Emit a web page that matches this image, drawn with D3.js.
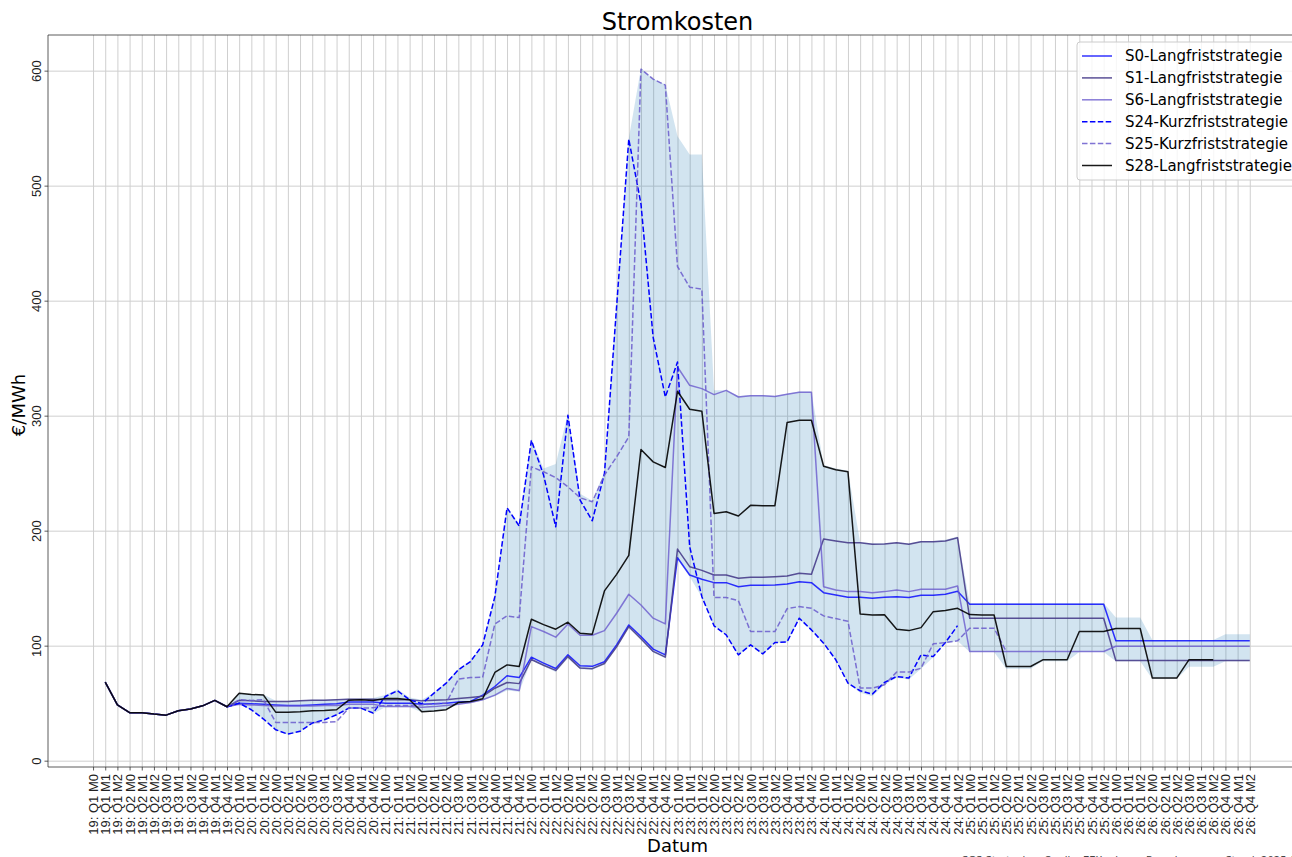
<!DOCTYPE html>
<html>
<head>
<meta charset="utf-8">
<title>Stromkosten</title>
<script src="https://cdn.jsdelivr.net/npm/d3@7"></script>
<style>
  body { margin: 0; background: #fff; overflow: hidden; }
  svg { display: block; font-family: "DejaVu Sans", sans-serif; }
  .grid line { stroke: #cfcfcf; stroke-width: 1; }
  .grid path { display: none; }
  .axis path { display: none; }
  .axis line { stroke: #333; stroke-width: 0.8; }
  .axis text { fill: #222; font-size: 13px; }
</style>
</head>
<body>
<div id="chart"></div>
<script>
// tick labels: year / quarter / month of the forward product
const years = ["19", "20", "21", "22", "23", "24", "25", "26"];
const quarters = ["Q1", "Q2", "Q3", "Q4"];
const months = ["M0", "M1", "M2"];
const categories = [];
years.forEach(y => quarters.forEach(q => months.forEach(m => categories.push(`${y}: ${q} ${m}`))));
const yTicks = [0, 100, 200, 300, 400, 500, 600];

const _ = null;

// one row per year (12 values), €/MWh
const s0 = [
  _, 68.3, 48.6, 41.7, 41.7, 40.5, 39.6, 43.4, 44.9, 47.7, 52.4, 46.9,
  50.0, 49.5, 49.0, 48.5, 48.0, 48.0, 48.5, 49.0, 49.5, 51.0, 51.0, 51.0,
  50.0, 50.0, 50.0, 49.0, 49.5, 50.0, 51.0, 51.5, 57.0, 64.5, 73.8, 72.3,
  90.0, 84.8, 80.1, 92.0, 82.5, 82.0, 86.0, 100.7, 118.0, 108.0, 97.0, 92.0,
  176.5, 161.5, 157.7, 154.8, 154.8, 151.3, 152.5, 152.5, 152.8, 153.6, 155.6, 154.8,
  146.1, 144.1, 142.1, 142.1, 141.2, 142.1, 142.6, 141.8, 143.8, 143.8, 144.7, 147.3,
  136.0, 136.0, 136.0, 136.0, 136.0, 136.0, 136.0, 136.0, 136.0, 136.0, 136.0, 136.0,
  104.2, 104.2, 104.2, 104.2, 104.2, 104.2, 104.2, 104.2, 104.2, 104.2, 104.2, 104.2
];
const s1 = [
  _, 68.3, 48.6, 41.7, 41.7, 40.5, 39.6, 43.4, 44.9, 47.7, 52.4, 46.9,
  52.5, 52.0, 51.5, 51.5, 51.5, 52.0, 52.5, 52.5, 53.0, 53.5, 53.5, 53.5,
  53.0, 53.0, 53.0, 52.0, 52.5, 53.0, 54.0, 55.0, 56.0, 63.0, 68.0, 67.0,
  88.0, 83.0, 78.5, 90.5, 80.5, 80.0, 84.5, 99.0, 116.5, 106.0, 95.0, 90.0,
  184.0, 168.7, 165.5, 161.5, 161.5, 158.6, 159.4, 159.4, 160.0, 160.6, 162.9, 162.0,
  192.7, 191.0, 189.5, 189.5, 188.1, 188.4, 189.5, 188.1, 190.4, 190.4, 191.0, 193.9,
  123.8, 123.8, 123.8, 123.8, 123.8, 123.8, 123.8, 123.8, 123.8, 123.8, 123.8, 123.8,
  87.1, 87.1, 87.1, 87.1, 87.1, 87.1, 87.1, 87.1, 87.1, 87.1, 87.1, 87.1
];
const s6 = [
  _, 68.3, 48.6, 41.7, 41.7, 40.5, 39.6, 43.4, 44.9, 47.7, 52.4, 46.9,
  49.0, 48.5, 48.0, 47.5, 47.5, 47.5, 47.5, 48.0, 48.0, 49.0, 49.0, 49.0,
  47.0, 47.0, 47.0, 46.5, 47.0, 48.0, 49.0, 50.6, 53.0, 57.0, 62.8, 61.0,
  116.6, 112.3, 107.4, 118.9, 109.0, 109.0, 113.1, 128.2, 144.7, 135.4, 123.9, 118.9,
  342.3, 326.4, 323.5, 318.3, 322.0, 316.2, 317.4, 317.4, 316.6, 318.6, 320.3, 320.3,
  151.3, 148.4, 147.0, 147.0, 146.1, 147.0, 148.4, 147.0, 149.0, 149.0, 149.0, 151.9,
  94.9, 94.9, 94.9, 94.9, 94.9, 94.9, 94.9, 94.9, 94.9, 94.9, 94.9, 94.9,
  99.5, 99.5, 99.5, 99.5, 99.5, 99.5, 99.5, 99.5, 99.5, 99.5, 99.5, 99.5
];
const s24 = [
  _, _, _, _, _, _, _, _, _, _, _, 46.9,
  50.0, 44.3, 36.2, 26.9, 23.1, 25.5, 32.7, 35.6, 39.9, 45.7, 45.7, 41.4,
  55.8, 60.8, 52.9, 49.5, 58.7, 67.4, 79.0, 86.2, 100.7, 142.6, 219.9, 204.0,
  278.6, 248.3, 203.4, 300.3, 226.6, 208.6, 249.7, 395.0, 540.5, 484.0, 368.1, 316.2,
  346.6, 186.0, 142.6, 117.3, 109.4, 92.0, 100.7, 92.9, 102.7, 103.3, 123.9, 113.7,
  102.2, 87.7, 67.4, 60.8, 57.9, 68.0, 73.2, 71.8, 92.0, 90.5, 102.7, 117.4,
  _, _, _, _, _, _, _, _, _, _, _, _,
  _, _, _, _, _, _, _, _, _, _, _, _
];
const s25 = [
  _, _, _, _, _, _, _, _, _, _, _, 46.9,
  53.0, 52.4, 53.0, 33.3, 33.3, 33.3, 33.3, 33.3, 34.0, 45.7, 45.7, 46.0,
  48.0, 48.0, 48.0, 48.6, 49.5, 50.0, 70.9, 72.3, 72.6, 118.9, 125.9, 124.4,
  255.5, 251.2, 246.2, 238.1, 228.6, 225.1, 248.3, 264.2, 281.5, 601.3, 592.6, 587.4,
  429.7, 411.7, 410.0, 142.0, 141.9, 139.1, 112.3, 112.3, 112.3, 132.2, 134.0, 132.5,
  125.9, 123.6, 121.2, 63.1, 63.1, 66.0, 77.0, 77.0, 80.4, 101.6, 102.7, 104.2,
  115.2, 115.2, 115.2, 94.9, _, _, _, _, _, _, _, _,
  _, _, _, _, _, _, _, _, _, _, _, _
];
const s28 = [
  _, 68.3, 48.6, 41.7, 41.7, 40.5, 39.6, 43.4, 44.9, 47.7, 52.4, 46.9,
  58.7, 57.6, 57.0, 42.2, 42.2, 42.5, 43.4, 43.7, 44.3, 52.6, 52.9, 52.4,
  54.1, 54.1, 52.9, 42.5, 43.1, 44.3, 50.6, 51.5, 53.8, 76.7, 83.3, 81.9,
  123.0, 118.3, 114.3, 120.4, 110.8, 110.0, 147.6, 162.0, 178.5, 270.5, 259.8, 254.9,
  321.2, 305.6, 303.8, 215.0, 216.4, 212.7, 222.0, 221.7, 221.7, 294.0, 296.0, 296.0,
  256.0, 253.0, 251.2, 127.6, 126.7, 126.9, 114.3, 113.1, 115.7, 129.6, 130.5, 132.5,
  127.0, 126.7, 126.7, 81.9, 81.9, 81.9, 87.7, 87.7, 87.7, 112.3, 112.3, 112.3,
  114.9, 114.9, 114.9, 71.8, 71.8, 71.8, 87.7, 87.7, 87.7, _, _, _
];

// range over all strategies (shaded band)
const bandHigh = [
  _, _, _, _, _, _, _, _, _, _, _, 47,
  59, 58, 57.5, 52, 52, 52.5, 53, 53, 53.5, 54, 54, 54.5,
  57, 62, 55, 53, 59, 68, 80, 87, 101, 143, 220, 206,
  280, 254, 258, 302, 232, 226, 251, 400, 541, 602, 593, 588,
  543, 527, 527, 322, 322, 317, 318, 318, 317, 319, 321, 321,
  257, 254, 252, 190, 189, 189, 190, 189, 191, 191, 192, 195,
  137, 137, 137, 137, 137, 137, 137, 137, 137, 137, 137, 137,
  124.4, 124.4, 124.4, 105, 105, 105, 105, 105, 105, 110, 110, 110
];
const bandLow = [
  _, _, _, _, _, _, _, _, _, _, _, 46,
  49, 44, 36, 26.5, 22.5, 25, 32, 35, 39.5, 45, 45, 41,
  46.5, 46.5, 46.5, 42, 42.5, 44, 49, 50, 52.5, 56, 61, 60,
  87, 82, 77, 89, 79.5, 79, 83.5, 98, 115.5, 105, 94, 89,
  175, 160, 142, 117, 109, 91.5, 100, 92, 102, 103, 123, 113,
  102, 87, 67, 59, 56, 66, 72, 70.5, 80, 90, 102, 104,
  94.5, 94.5, 94.5, 80, 80, 80, 86.5, 86.5, 86.5, 94.5, 94.5, 94.5,
  86.5, 86.5, 86.5, 71, 71, 71, 81.6, 81.6, 81.6, 86.5, 86.5, 86.5
];

const seriesNames = ["S0-Langfriststrategie", "S1-Langfriststrategie", "S6-Langfriststrategie",
  "S24-Kurzfriststrategie", "S25-Kurzfriststrategie", "S28-Langfriststrategie"];
const seriesValues = [s0, s1, s6, s24, s25, s28];
const seriesStyle = [
  {color: "#0000ff", opacity: 0.8, dash: null},
  {color: "#483d8b", opacity: 0.9, dash: null},
  {color: "#6a5acd", opacity: 0.8, dash: null},
  {color: "#0000ff", opacity: 1, dash: "5.5,2.4"},
  {color: "#6a5acd", opacity: 0.85, dash: "5.5,2.4"},
  {color: "#000000", opacity: 0.9, dash: null}
];

const W = 1292, H = 857;
const margin = {top: 35, left: 48};
const plotW = 1259, plotH = 732;

const svg = d3.select("#chart").append("svg")
  .attr("width", W)
  .attr("height", H);

const chart = svg.append("g")
  .attr("transform", `translate(${margin.left}, ${margin.top})`);

const x = d3.scaleLinear().domain([-3.7, 99.7]).range([0, plotW]);
const y = d3.scaleLinear().domain([-5.5, 631]).range([plotH, 0]);

// grid
chart.append("g")
  .attr("class", "grid")
  .attr("transform", `translate(0, ${plotH})`)
  .call(d3.axisBottom(x).tickValues(d3.range(categories.length)).tickSize(-plotH).tickFormat(""));
chart.append("g")
  .attr("class", "grid")
  .call(d3.axisLeft(y).tickValues(yTicks).tickSize(-plotW).tickFormat(""));

// shaded band
const area = d3.area()
  .defined(d => d[0] != null)
  .x((d, i) => x(i))
  .y0(d => y(d[0]))
  .y1(d => y(d[1]));
chart.append("path")
  .datum(bandLow.map((v, i) => [v, bandHigh[i]]))
  .attr("fill", "#1f77b4")
  .attr("fill-opacity", 0.2)
  .attr("d", area);

// lines
const line = d3.line()
  .defined(d => d != null)
  .x((d, i) => x(i))
  .y(d => y(d));

seriesValues.forEach(function (vals, k) {
  const st = seriesStyle[k];
  chart.append("path")
    .datum(vals)
    .attr("fill", "none")
    .attr("stroke", st.color)
    .attr("stroke-opacity", st.opacity)
    .attr("stroke-width", 1.5)
    .attr("stroke-dasharray", st.dash)
    .attr("stroke-linejoin", "round")
    .attr("d", line);
});

// axes
const xAxis = chart.append("g")
  .attr("class", "axis")
  .attr("transform", `translate(0, ${plotH})`)
  .call(d3.axisBottom(x).tickValues(d3.range(categories.length)).tickSize(3.5).tickFormat(i => categories[i]));
xAxis.selectAll("text")
  .attr("transform", "rotate(-90)")
  .attr("x", -7)
  .attr("y", 0)
  .attr("dy", "0.35em")
  .attr("text-anchor", "end");

const yAxis = chart.append("g")
  .attr("class", "axis")
  .call(d3.axisLeft(y).tickValues(yTicks).tickSize(3.5));
yAxis.selectAll("text")
  .attr("transform", "rotate(-90)")
  .attr("x", 0)
  .attr("y", -6.6)
  .attr("dy", 0)
  .attr("text-anchor", "middle");

// spines (right side is outside the picture)
chart.append("path")
  .attr("d", `M${plotW},0H0V${plotH}H${plotW}`)
  .attr("fill", "none")
  .attr("stroke", "#333")
  .attr("stroke-width", 0.8);

// titles
svg.append("text")
  .attr("x", margin.left + plotW / 2)
  .attr("y", 30)
  .attr("text-anchor", "middle")
  .attr("font-size", 24)
  .text("Stromkosten");

svg.append("text")
  .attr("x", margin.left + plotW / 2)
  .attr("y", 852)
  .attr("text-anchor", "middle")
  .attr("font-size", 18)
  .text("Datum");

svg.append("text")
  .attr("transform", "translate(25, 405) rotate(-90)")
  .attr("text-anchor", "middle")
  .attr("font-size", 18)
  .text("€/MWh");

// source note, mostly below the picture edge (as in the original)
svg.append("text")
  .attr("x", 962)
  .attr("y", 864)
  .attr("font-size", 10)
  .attr("fill", "#444")
  .text("SGS Strategien; Quelle: EEX; eigene Berechnungen; Stand: 2025-03-24");

// legend
const legend = svg.append("g")
  .attr("transform", "translate(1077, 42)");
legend.append("rect")
  .attr("width", 240)
  .attr("height", 138)
  .attr("rx", 3)
  .attr("fill", "#fff")
  .attr("fill-opacity", 0.8)
  .attr("stroke", "#ccc");

const item = legend.selectAll(".item")
  .data(seriesNames)
  .enter().append("g")
  .attr("class", "item")
  .attr("transform", (d, i) => `translate(0, ${14 + i * 21.9})`);

item.append("line")
  .attr("x1", 5)
  .attr("x2", 35)
  .attr("stroke", (d, i) => seriesStyle[i].color)
  .attr("stroke-opacity", (d, i) => seriesStyle[i].opacity)
  .attr("stroke-width", 1.5)
  .attr("stroke-dasharray", (d, i) => seriesStyle[i].dash);

item.append("text")
  .attr("x", 48)
  .attr("dy", "0.35em")
  .attr("font-size", 15)
  .text(d => d);
</script>
</body>
</html>
